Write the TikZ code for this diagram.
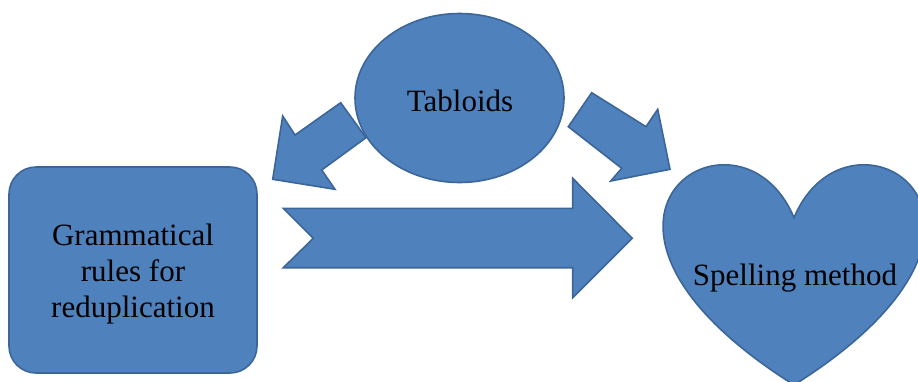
\documentclass[tikz,border=0pt]{standalone}
\usepackage{fontspec}
\setmainfont{Liberation Serif}
\usetikzlibrary{shapes.geometric}
\definecolor{shapefill}{HTML}{4F81BD}
\definecolor{shapeline}{HTML}{3C6699}
\begin{document}
\begin{tikzpicture}[x=1pt,y=-1pt,
  blob/.style={fill=shapefill,draw=shapeline,line width=1.6pt,line join=miter},
  label/.style={font=\fontsize{31}{36}\selectfont,text=black,align=center,inner sep=0pt}]
\useasboundingbox (0,0) rectangle (918,381);

% arrow from the ellipse down-left to the box
\draw[blob] (340.7,102.7) -- (295,135) -- (282.7,116) -- (272.7,179.3)
  -- (335,189.3) -- (321.7,170) -- (366,137.7) -- cycle;
% arrow from the ellipse down-right to the heart
\draw[blob] (591.7,92.7) -- (646,126.7) -- (657.7,109.3) -- (670,169.3)
  -- (610.7,181) -- (621.7,168.3) -- (568.3,126.7) -- cycle;

% source ellipse
\node[blob,ellipse,minimum width=209pt,minimum height=169pt,inner sep=0pt]
  (tab) at (459.5,98) {};
\node[label] (tabtext) at (460,101) {Tabloids};

% rounded box on the left
\node[blob,rectangle,rounded corners=27pt,minimum width=248pt,minimum height=206pt]
  (gram) at (133,270) {};
\node[label] (gramtext) at (133,274) {Grammatical\\rules for\\reduplication};

% notched arrow between the box and the heart
\draw[blob] (283.3,208.3) -- (572.7,208.3) -- (572.7,178.3) -- (632.3,238.3)
  -- (572.7,297.7) -- (572.7,267.7) -- (283.3,267.7) -- (313.3,238.3) -- cycle;

% heart on the right
\draw[blob] (794,217.75) .. controls (848.2,87.7) and (1059.4,217.75) .. (794,385)
  .. controls (528.6,217.75) and (739.8,87.7) .. (794,217.75) -- cycle;
\node[label] (spell) at (795,278) {Spelling method};
\end{tikzpicture}
\end{document}
